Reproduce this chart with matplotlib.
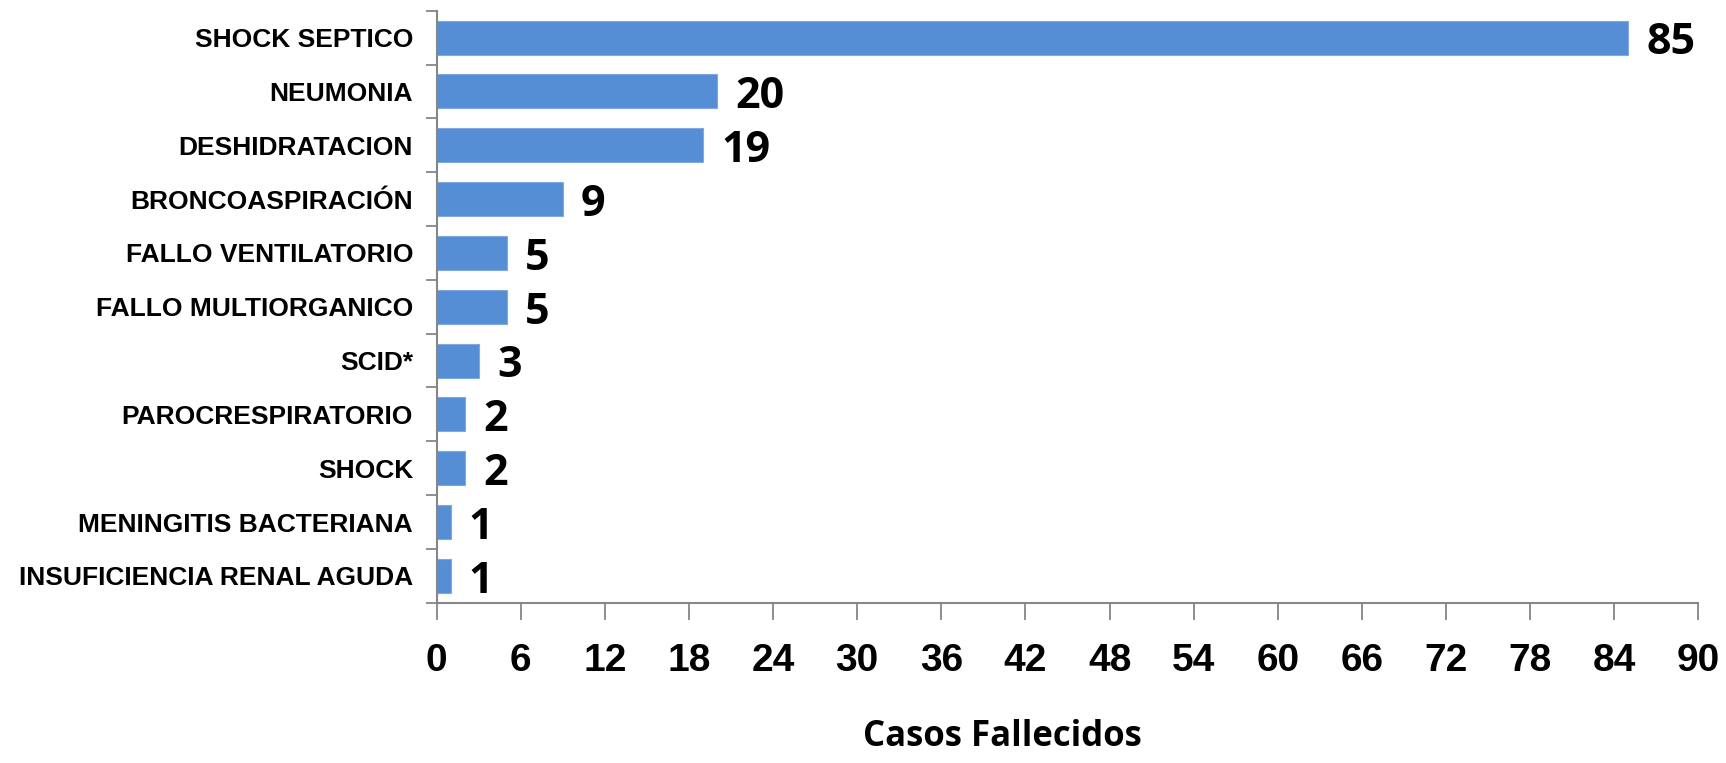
import matplotlib
matplotlib.use("Agg")
import matplotlib.pyplot as plt
import numpy as np

# ── data ─────────────────────────────────────────────────────────────────────
CAUSES = [
    "SHOCK SEPTICO",
    "NEUMONIA",
    "DESHIDRATACION",
    "BRONCOASPIRACIÓN",
    "FALLO VENTILATORIO",
    "FALLO MULTIORGANICO",
    "SCID*",
    "PAROCRESPIRATORIO",
    "SHOCK",
    "MENINGITIS BACTERIANA",
    "INSUFICIENCIA RENAL AGUDA",
]
DEATHS = [85, 20, 19, 9, 5, 5, 3, 2, 2, 1, 1]
X_TICKS = list(range(0, 91, 6))

BAR_COLOR = "#558ED5"
AXIS_GRAY = "#868686"

# ── figure ───────────────────────────────────────────────────────────────────
fig = plt.figure(figsize=(17.26, 7.63), dpi=100)
ax = fig.add_axes([0.253, 0.21, 0.731, 0.776])

n = len(CAUSES)
y = np.arange(n)
ax.barh(y, DEATHS, height=0.63, color=BAR_COLOR, edgecolor="#7FA9E0",
        linewidth=0.8, zorder=2)

ax.set_xlim(0, 90)
ax.set_ylim(n - 0.5, -0.5)

# value labels
for yi, v in zip(y, DEATHS):
    ax.text(v + 1.3, yi + 0.1, str(v), ha="left", va="center",
            fontsize=31, fontweight="bold", family="Open Sans", color="black")

# y axis: labels at centres, tick marks at the boundaries
ax.set_yticks(y)
ax.set_yticklabels(CAUSES, fontsize=19, fontweight="bold",
                   family="Liberation Sans")
ax.tick_params(axis="y", which="major", length=0, pad=17)
ax.set_yticks(np.arange(-0.5, n, 1), minor=True)
ax.tick_params(axis="y", which="minor", length=8, width=1.3, color=AXIS_GRAY)

# x axis
ax.set_xticks(X_TICKS)
ax.set_xticklabels([str(t) for t in X_TICKS], fontsize=28, fontweight="bold",
                   family="Liberation Sans")
ax.tick_params(axis="x", length=12, width=1.3, color=AXIS_GRAY, pad=17)

fig.text(0.581, 0.022, "Casos Fallecidos", ha="center", va="baseline",
         fontsize=25, fontweight="bold", family="Open Sans")

for side in ("top", "right"):
    ax.spines[side].set_visible(False)
for side in ("left", "bottom"):
    ax.spines[side].set_color(AXIS_GRAY)
    ax.spines[side].set_linewidth(1.5)

fig.savefig("out.png", dpi=100, facecolor="white")
